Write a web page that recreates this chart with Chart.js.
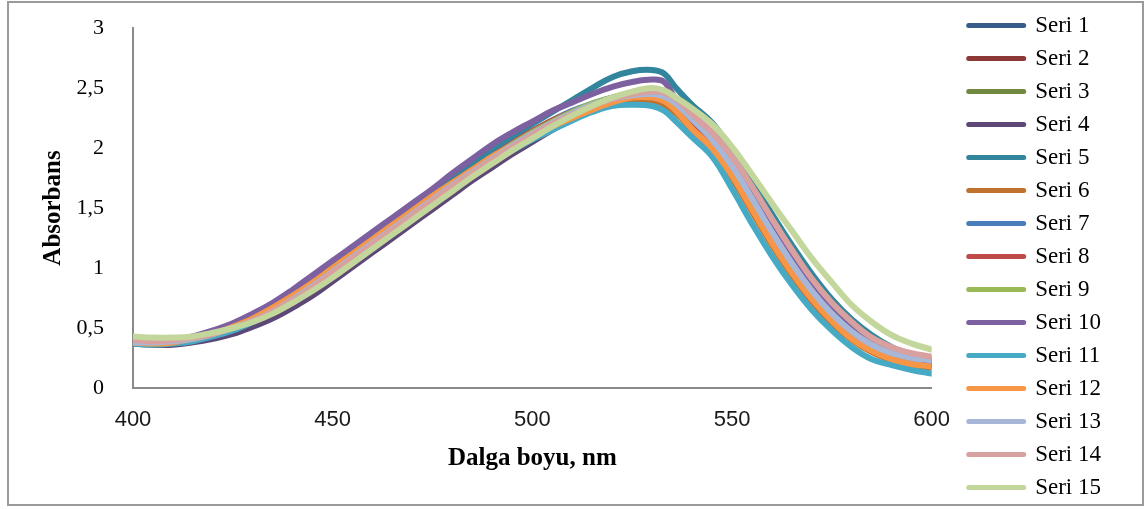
<!DOCTYPE html>
<html>
<head>
<meta charset="utf-8">
<title>Absorbans</title>
<script src="https://cdn.jsdelivr.net/npm/chart.js@4.4.1/dist/chart.umd.min.js"></script>
<style>
body { margin: 0; background: #fff; }
#wrap { position: relative; width: 1145px; height: 509px; }
#frame { position: absolute; left: 7px; top: 1px; width: 1133px; height: 501px; border: 2px solid #9a9a9a; pointer-events: none; }
</style>
</head>
<body>
<div id="wrap">
<canvas id="chart-area" width="1145" height="509"></canvas>
<div id="frame"></div>
</div>
<script>
// dalga boyu (nm)
var dalgaBoyu = [400, 405, 410, 415, 420, 425, 430, 435, 440, 445, 450, 455, 460, 465, 470, 475, 480, 485, 490, 495, 500, 505, 510, 515, 520, 525, 530, 533, 536, 540, 545, 550, 555, 560, 565, 570, 575, 580, 585, 590, 595, 600];

var seri1 = [0.38, 0.37, 0.38, 0.40, 0.44, 0.50, 0.57, 0.65, 0.75, 0.86, 0.98, 1.10, 1.22, 1.34, 1.46, 1.58, 1.70, 1.81, 1.92, 2.02, 2.11, 2.20, 2.27, 2.33, 2.37, 2.40, 2.40, 2.37, 2.31, 2.18, 2.02, 1.80, 1.53, 1.25, 0.99, 0.77, 0.58, 0.43, 0.33, 0.26, 0.21, 0.19];
var seri2 = [0.39, 0.38, 0.39, 0.41, 0.45, 0.50, 0.57, 0.65, 0.75, 0.86, 0.98, 1.10, 1.22, 1.34, 1.46, 1.58, 1.70, 1.81, 1.92, 2.03, 2.13, 2.22, 2.29, 2.35, 2.40, 2.43, 2.43, 2.40, 2.34, 2.21, 2.05, 1.83, 1.56, 1.28, 1.02, 0.79, 0.60, 0.45, 0.34, 0.27, 0.23, 0.20];
var seri3 = [0.40, 0.39, 0.40, 0.42, 0.45, 0.50, 0.56, 0.64, 0.73, 0.84, 0.96, 1.08, 1.20, 1.32, 1.44, 1.56, 1.68, 1.80, 1.91, 2.02, 2.12, 2.21, 2.29, 2.36, 2.41, 2.45, 2.46, 2.44, 2.38, 2.26, 2.10, 1.89, 1.63, 1.36, 1.10, 0.87, 0.67, 0.51, 0.39, 0.31, 0.26, 0.23];
var seri4 = [0.37, 0.36, 0.36, 0.38, 0.41, 0.45, 0.51, 0.58, 0.67, 0.77, 0.89, 1.01, 1.13, 1.25, 1.37, 1.49, 1.61, 1.73, 1.84, 1.95, 2.05, 2.15, 2.24, 2.32, 2.39, 2.44, 2.46, 2.44, 2.38, 2.26, 2.10, 1.89, 1.63, 1.36, 1.10, 0.87, 0.67, 0.51, 0.39, 0.31, 0.26, 0.22];
var seri5 = [0.37, 0.37, 0.39, 0.42, 0.47, 0.53, 0.60, 0.69, 0.79, 0.90, 1.02, 1.14, 1.26, 1.38, 1.50, 1.62, 1.74, 1.86, 1.98, 2.09, 2.20, 2.30, 2.40, 2.50, 2.59, 2.64, 2.65, 2.62, 2.50, 2.36, 2.21, 1.98, 1.72, 1.45, 1.19, 0.95, 0.74, 0.57, 0.44, 0.34, 0.27, 0.22];
var seri6 = [0.38, 0.37, 0.38, 0.41, 0.45, 0.51, 0.58, 0.66, 0.76, 0.87, 0.99, 1.11, 1.23, 1.35, 1.47, 1.59, 1.70, 1.81, 1.92, 2.02, 2.11, 2.19, 2.26, 2.32, 2.36, 2.38, 2.38, 2.35, 2.29, 2.15, 1.98, 1.75, 1.47, 1.19, 0.94, 0.72, 0.54, 0.40, 0.30, 0.23, 0.19, 0.17];
var seri7 = [0.39, 0.38, 0.39, 0.41, 0.45, 0.51, 0.57, 0.65, 0.75, 0.86, 0.98, 1.10, 1.22, 1.34, 1.46, 1.58, 1.70, 1.82, 1.93, 2.04, 2.14, 2.23, 2.31, 2.37, 2.42, 2.45, 2.45, 2.42, 2.35, 2.22, 2.06, 1.85, 1.58, 1.30, 1.04, 0.81, 0.62, 0.47, 0.36, 0.28, 0.24, 0.21];
var seri8 = [0.39, 0.38, 0.39, 0.42, 0.46, 0.51, 0.58, 0.66, 0.76, 0.87, 0.99, 1.11, 1.23, 1.35, 1.47, 1.59, 1.71, 1.82, 1.93, 2.04, 2.14, 2.23, 2.30, 2.36, 2.41, 2.44, 2.44, 2.41, 2.34, 2.21, 2.04, 1.83, 1.56, 1.28, 1.02, 0.79, 0.60, 0.45, 0.34, 0.27, 0.23, 0.20];
var seri9 = [0.40, 0.39, 0.40, 0.42, 0.46, 0.51, 0.57, 0.65, 0.74, 0.85, 0.97, 1.09, 1.21, 1.33, 1.45, 1.57, 1.69, 1.81, 1.92, 2.03, 2.13, 2.22, 2.30, 2.37, 2.42, 2.46, 2.47, 2.45, 2.39, 2.27, 2.11, 1.90, 1.64, 1.37, 1.11, 0.88, 0.68, 0.52, 0.40, 0.32, 0.27, 0.24];
var seri10 = [0.38, 0.38, 0.40, 0.43, 0.48, 0.54, 0.62, 0.71, 0.82, 0.94, 1.06, 1.18, 1.30, 1.42, 1.54, 1.66, 1.79, 1.91, 2.03, 2.13, 2.22, 2.31, 2.38, 2.45, 2.51, 2.55, 2.57, 2.55, 2.40, 2.24, 2.08, 1.88, 1.62, 1.34, 1.08, 0.85, 0.65, 0.50, 0.38, 0.30, 0.25, 0.22];
var seri11 = [0.37, 0.36, 0.37, 0.39, 0.43, 0.48, 0.55, 0.63, 0.73, 0.84, 0.96, 1.08, 1.20, 1.32, 1.44, 1.56, 1.67, 1.78, 1.89, 1.98, 2.07, 2.15, 2.23, 2.30, 2.35, 2.36, 2.35, 2.31, 2.22, 2.09, 1.93, 1.66, 1.37, 1.10, 0.86, 0.65, 0.48, 0.34, 0.24, 0.19, 0.15, 0.12];
var seri12 = [0.38, 0.37, 0.38, 0.41, 0.45, 0.51, 0.58, 0.67, 0.77, 0.88, 1.00, 1.12, 1.24, 1.36, 1.48, 1.60, 1.71, 1.82, 1.93, 2.02, 2.10, 2.18, 2.25, 2.32, 2.38, 2.42, 2.42, 2.39, 2.31, 2.16, 2.00, 1.77, 1.49, 1.21, 0.96, 0.74, 0.56, 0.41, 0.31, 0.24, 0.20, 0.18];
var seri13 = [0.38, 0.38, 0.39, 0.41, 0.45, 0.50, 0.56, 0.64, 0.74, 0.85, 0.97, 1.09, 1.21, 1.33, 1.45, 1.57, 1.69, 1.80, 1.91, 2.02, 2.12, 2.21, 2.29, 2.36, 2.41, 2.44, 2.45, 2.43, 2.37, 2.24, 2.07, 1.85, 1.58, 1.30, 1.04, 0.81, 0.62, 0.47, 0.36, 0.29, 0.25, 0.23];
var seri14 = [0.40, 0.39, 0.40, 0.42, 0.45, 0.50, 0.56, 0.64, 0.73, 0.84, 0.96, 1.08, 1.20, 1.32, 1.44, 1.56, 1.68, 1.79, 1.90, 2.01, 2.11, 2.20, 2.28, 2.35, 2.41, 2.45, 2.47, 2.46, 2.41, 2.28, 2.13, 1.93, 1.68, 1.41, 1.15, 0.91, 0.71, 0.55, 0.42, 0.34, 0.29, 0.26];
var seri15 = [0.43, 0.42, 0.42, 0.43, 0.46, 0.50, 0.55, 0.62, 0.71, 0.81, 0.92, 1.04, 1.16, 1.28, 1.40, 1.52, 1.64, 1.76, 1.87, 1.98, 2.08, 2.18, 2.27, 2.35, 2.42, 2.47, 2.50, 2.48, 2.42, 2.33, 2.20, 2.01, 1.78, 1.54, 1.31, 1.08, 0.88, 0.69, 0.55, 0.44, 0.37, 0.32];

var seriler = [seri1, seri2, seri3, seri4, seri5, seri6, seri7, seri8, seri9, seri10, seri11, seri12, seri13, seri14, seri15];
var seriAdlari = ["Seri 1", "Seri 2", "Seri 3", "Seri 4", "Seri 5", "Seri 6", "Seri 7", "Seri 8", "Seri 9", "Seri 10", "Seri 11", "Seri 12", "Seri 13", "Seri 14", "Seri 15"];

// eksen etiketleri
var yTicks = [0, 0.5, 1, 1.5, 2, 2.5, 3];
var yEtiketleri = ["0", "0,5", "1", "1,5", "2", "2,5", "3"];
var xTicks = [400, 450, 500, 550, 600];

function GetPalette() {
    return ["#385D8A", "#8C3836", "#71893F", "#5C4776", "#31859C",
            "#C0712E", "#4A7EBB", "#BE4B48", "#98B954", "#7D60A0",
            "#46AAC5", "#F79646", "#A6B7D8", "#D8A09F", "#C3D69B"];
}

function BuildDatasets() {
    var renkler = GetPalette();
    var datasets = [];
    for (var s = 0; s < seriler.length; s++) {
        var points = [];
        for (var i = 0; i < dalgaBoyu.length; i++) {
            points.push({x: dalgaBoyu[i], y: seriler[s][i]});
        }
        datasets.push({
            label: seriAdlari[s],
            data: points,
            borderColor: renkler[s],
            backgroundColor: renkler[s],
            borderWidth: 6,
            borderCapStyle: 'round',
            borderJoinStyle: 'round',
            pointRadius: 0,
            tension: 0.4,
            fill: false,
            order: seriler.length - s   // sonraki seriler ustte, excel gibi
        });
    }
    return datasets;
}

var config = {
    type: 'line',
    data: { datasets: BuildDatasets() },
    options: {
        responsive: false,
        animation: false,
        layout: { padding: { left: 8, right: 34, top: 0, bottom: 0 } },
        plugins: {
            tooltip: { enabled: false },
            legend: {
                position: 'right',
                align: 'end',
                labels: {
                    boxWidth: 55,
                    boxHeight: 0,
                    padding: 10,
                    color: '#000',
                    font: { family: '"Liberation Serif", "Times New Roman", serif', size: 23 },
                    generateLabels: function (chart) {
                        var items = Chart.defaults.plugins.legend.labels.generateLabels(chart);
                        items.forEach(function (it) { it.lineWidth = 5; it.lineCap = 'round'; it.lineJoin = 'round'; });
                        return items;
                    },
                    sort: function (a, b) { return a.datasetIndex - b.datasetIndex; }
                }
            }
        },
        scales: {
            x: {
                type: 'linear',
                min: 400,
                max: 600,
                afterBuildTicks: function (scale) {
                    scale.ticks = xTicks.map(function (v) { return {value: v}; });
                },
                afterFit: function (scale) { scale.height = 509 - 388; },
                grid: { display: false, drawTicks: false },
                border: { display: true, color: '#8a8a8a', width: 2 },
                ticks: {
                    padding: 19,
                    color: '#1a1a1a',
                    maxRotation: 0,
                    font: { family: '"Liberation Sans", Arial, sans-serif', size: 22 }
                },
                title: {
                    display: true,
                    text: 'Dalga boyu, nm',
                    color: '#000',
                    padding: { top: 0, bottom: 35 },
                    font: { family: '"Liberation Serif", "Times New Roman", serif', size: 25, weight: 'bold' }
                }
            },
            y: {
                min: 0,
                max: 3,
                afterBuildTicks: function (scale) {
                    scale.ticks = yTicks.map(function (v) { return {value: v}; });
                },
                afterFit: function (scale) {
                    scale.width = 133 - 8;
                    scale.paddingTop = 28;
                },
                grid: { display: false, drawTicks: false },
                border: { display: true, color: '#8a8a8a', width: 2 },
                ticks: {
                    padding: 29,
                    color: '#000',
                    font: { family: '"Liberation Serif", "Times New Roman", serif', size: 22 },
                    callback: function (v) {
                        var k = yTicks.indexOf(v);
                        return k >= 0 ? yEtiketleri[k] : '';
                    }
                },
                title: {
                    display: true,
                    text: 'Absorbans',
                    color: '#000',
                    padding: { top: 31, bottom: 0 },
                    font: { family: '"Liberation Serif", "Times New Roman", serif', size: 25, weight: 'bold' }
                }
            },
            // bos eksen: grafik ile lejant arasi bosluk
            bosluk: {
                type: 'linear',
                position: 'right',
                display: true,
                grid: { display: false, drawTicks: false },
                border: { display: false },
                ticks: { display: false },
                afterFit: function (scale) { scale.width = 27; }
            }
        }
    }
};

function CreateGraph() {
    var ctx = document.getElementById("chart-area").getContext("2d");
    window.myLine = new Chart(ctx, config);
}

CreateGraph();
</script>
</body>
</html>
